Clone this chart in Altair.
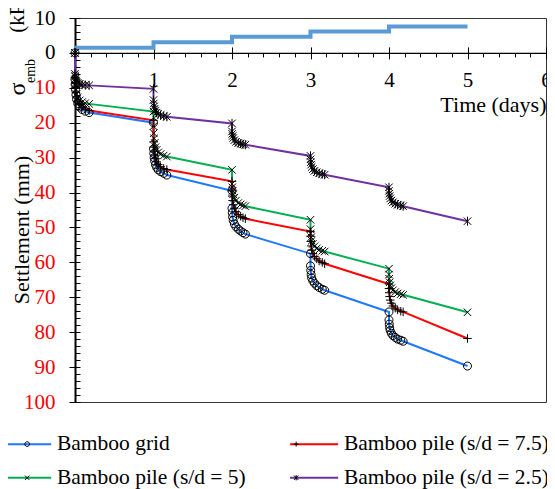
import altair as alt
import pandas as pd

# ---------------- data ----------------
series_names = ["Bamboo grid", "Bamboo pile (s/d = 5)",
                "Bamboo pile (s/d = 7.5)", "Bamboo pile (s/d = 2.5)"]
series_colors = ["#1e78ff", "#00b050", "#ff0000", "#7030a0"]

cluster_t = [0, 0, 0.002, 0.006, 0.012, 0.02, 0.035, 0.06, 0.09, 0.13, 0.18,
             1, 1, 1.003, 1.008, 1.015, 1.025, 1.04, 1.06, 1.09, 1.13, 1.17,
             2, 2, 2.003, 2.008, 2.015, 2.03, 2.05, 2.08, 2.11, 2.14, 2.17,
             3, 3, 3.003, 3.008, 3.015, 3.03, 3.05, 3.08, 3.11, 3.15, 3.18,
             4, 4, 4.003, 4.008, 4.015, 4.03, 4.05, 4.08, 4.11, 4.15, 4.18,
             5]

grid_s = [0, 7.5, 9, 10.5, 12, 13.3, 14.5, 15.5, 16.2, 16.7, 17.1,
          20.0, 27.5, 28.8, 30, 31, 32, 32.8, 33.5, 34, 34.5, 35,
          39.5, 44.5, 45.8, 47, 48, 49, 49.8, 50.5, 51, 51.5, 51.9,
          57.5, 61, 62.3, 63.5, 64.5, 65.3, 66, 66.7, 67.2, 67.7, 68,
          74.2, 76.5, 77.7, 78.7, 79.5, 80.3, 81, 81.5, 82, 82.3, 82.6,
          89.7]
pile5_s = [0, 6.5, 8, 9.3, 10.5, 11.8, 12.8, 13.6, 14.1, 14.4, 14.6,
           16.8, 21, 23, 24.5, 25.8, 27, 27.8, 28.5, 29, 29.4, 29.7,
           33.5, 37.5, 38.5, 39.5, 40.5, 41.5, 42.3, 43, 43.4, 43.7, 43.9,
           47.8, 50.5, 51.7, 52.8, 53.8, 54.7, 55.4, 56, 56.4, 56.7, 56.9,
           61.8, 63.5, 64.7, 65.7, 66.6, 67.4, 68, 68.5, 68.9, 69.1, 69.3,
           74.3]
pile75_s = [0, 7, 8.5, 10, 11.3, 12.6, 13.8, 14.8, 15.6, 16.1, 16.5,
            19.3, 25.5, 27, 28.2, 29.3, 30.3, 31.2, 32, 32.6, 33.1, 33.4,
            36.8, 39.5, 41, 42.3, 43.5, 44.5, 45.5, 46.3, 46.8, 47.2, 47.5,
            51.2, 52.5, 54, 55.3, 56.5, 57.5, 58.3, 59, 59.6, 60, 60.4,
            66.2, 67.5, 68.7, 69.8, 70.8, 71.7, 72.5, 73.1, 73.6, 74, 74.2,
            81.8]
pile25_s = [0, 6, 6.8, 7.4, 7.9, 8.3, 8.6, 8.9, 9.1, 9.2, 9.3,
            10.3, 13.5, 14.5, 15.3, 16, 16.6, 17.1, 17.5, 17.8, 18.1, 18.3,
            20.2, 22.5, 23.2, 23.8, 24.4, 25, 25.5, 25.8, 26, 26.2, 26.3,
            29.5, 30.5, 31.3, 32, 32.7, 33.3, 33.8, 34.2, 34.5, 34.7, 34.9,
            38.5, 39.5, 40.3, 41, 41.7, 42.3, 42.8, 43.2, 43.5, 43.7, 43.9,
            48.2]

sigma_t = [0, 1, 2, 3, 4, 5]
sigma_kpa = [1.5, 3.05, 4.6, 6.1, 7.6, 7.6]

x_ticks_major = [0, 1, 2, 3, 4, 5, 6]
x_ticks_minor = [round(i * 0.2, 1) for i in range(31) if i % 5]
y_ticks_major = list(range(-10, 101, 10))
y_ticks_minor = list(range(-10, 101, 2))

# ---------------- tables ----------------
rows = []
for name, svals in zip(series_names, [grid_s, pile5_s, pile75_s, pile25_s]):
    for i, (t, s) in enumerate(zip(cluster_t, svals)):
        rows.append({"series": name, "series_m": name, "t": t, "s": s, "idx": i})
df = pd.DataFrame(rows)
sig_df = pd.DataFrame({"t": sigma_t, "sigma": sigma_kpa})

# ---------------- layout ----------------
W, H = 471, 384
Y0 = H * 10 / 110  # pixel position of the zero line
FONT = "Liberation Serif"

X_SCALE = alt.Scale(domain=[0, 6], nice=False, zero=False)
Y_SCALE = alt.Scale(domain=[-10, 100], reverse=True, nice=False, zero=False)

shape_paths = [
    "M0.3,0A0.3,0.3,0,1,1,-0.3,0A0.3,0.3,0,1,1,0.3,0Z",
    "M-0.28,-0.28L0.28,0.28M-0.28,0.28L0.28,-0.28",
    "M-0.32,0H0.32M0,-0.32V0.32",
    "M-0.28,-0.28L0.28,0.28M-0.28,0.28L0.28,-0.28M0,-0.34V0.34",
]

LEG_X, LEG_Y = -58.6, 415
legend_common = dict(
    orient="none", legendX=LEG_X, legendY=LEG_Y, columns=2, title=None,
    labelFont=FONT, labelFontSize=21.5, labelLimit=0, symbolSize=245,
    labelOffset=19, columnPadding=39, rowPadding=11, padding=0,
)

sigma_layer = alt.Chart(sig_df).transform_calculate(
    neg="-datum.sigma"
).mark_line(interpolate="step-after", color="#5b9bd5", strokeWidth=4).encode(
    x=alt.X("t:Q", scale=X_SCALE, axis=alt.Axis(
        orient="bottom", offset=-(H - Y0), values=x_ticks_major,
        labelExpr="datum.value == 0 ? '' : datum.label",
        tickSize=6, tickColor="black", tickWidth=1,
        domain=True, domainColor="black", domainWidth=1.2,
        labelFont=FONT, labelFontSize=21, labelColor="black",
        labelPadding=11, labelFlush=False, labelOverlap=False, grid=False,
        title="Time (days)", titleFont=FONT, titleFontSize=22,
        titleFontWeight="normal", titleColor="black",
        titleX=471, titleY=52, titleAlign="right", titleBaseline="middle")),
    y=alt.Y("neg:Q", scale=Y_SCALE, axis=alt.Axis(
        orient="left", values=y_ticks_major,
        labelExpr="'' + abs(datum.value)",
        tickSize=6, tickColor="black", tickWidth=1,
        domain=True, domainColor="black", domainWidth=2,
        labelFont=FONT, labelFontSize=21,
        labelColor={"condition": {"test": "datum.value <= 0", "value": "black"},
                    "value": "#ff0000"},
        labelPadding=14, labelFlush=False, labelOverlap=False, grid=False,
        title=None)),
)

line_layer = alt.Chart(df).mark_line(strokeWidth=2).encode(
    x=alt.X("t:Q", scale=X_SCALE, axis=alt.Axis(
        orient="top", offset=-Y0, values=x_ticks_major, tickSize=6,
        tickColor="black", labels=False, domain=False, grid=False, title=None)),
    y=alt.Y("s:Q", scale=Y_SCALE, axis=alt.Axis(
        orient="right", offset=-W, values=y_ticks_minor, tickSize=5,
        tickColor="black", labels=False, domain=False, grid=False, title=None)),
    color=alt.Color("series:N", scale=alt.Scale(domain=series_names, range=series_colors),
                    legend=alt.Legend(symbolType="M-3.07,0H3.07", symbolStrokeWidth=2,
                                      labelColor="black", symbolOffset=0,
                                      **legend_common)),
    detail="series:N",
    order="idx:Q",
)

point_layer = alt.Chart(df).mark_point(filled=False, color="black", strokeWidth=1,
                                       size=711, opacity=1).encode(
    x=alt.X("t:Q", scale=X_SCALE, axis=alt.Axis(
        orient="bottom", offset=-(H - Y0), values=x_ticks_minor, tickSize=4,
        tickColor="black", labels=False, domain=False, grid=False, title=None)),
    y=alt.Y("s:Q", scale=Y_SCALE, axis=None),
    shape=alt.Shape("series_m:N", sort=series_names,
                    scale=alt.Scale(range=shape_paths),
                    legend=alt.Legend(symbolStrokeColor="black", symbolFillColor="transparent",
                                      symbolStrokeWidth=1, labelColor="transparent",
                                      symbolOffset=0, **legend_common)),
)


def rot_text(label, x, y, size):
    return alt.Chart(alt.Data(values=[{}])).mark_text(
        text=label, angle=270, align="center", baseline="middle",
        font=FONT, fontSize=size, color="black"
    ).encode(x=alt.value(x), y=alt.value(y))


titles = [
    rot_text("σ", -57, 71, 24),
    rot_text("emb", -44, 53, 14),
    rot_text("(kPa)", -57.5, -8, 21),
    rot_text("Settlement (mm)", -53, 212, 22),
]

chart = alt.layer(sigma_layer, line_layer, point_layer, *titles).resolve_axis(
    x="independent", y="independent"
).properties(
    width=W, height=H,
    autosize=alt.AutoSizeParams(type="none"),
    padding={"left": 67, "top": 10, "right": 1, "bottom": 92},
    background="white",
).configure_view(stroke="#333333", strokeWidth=1)

chart.save("out.html", embed_options={"renderer": "svg", "actions": False})
